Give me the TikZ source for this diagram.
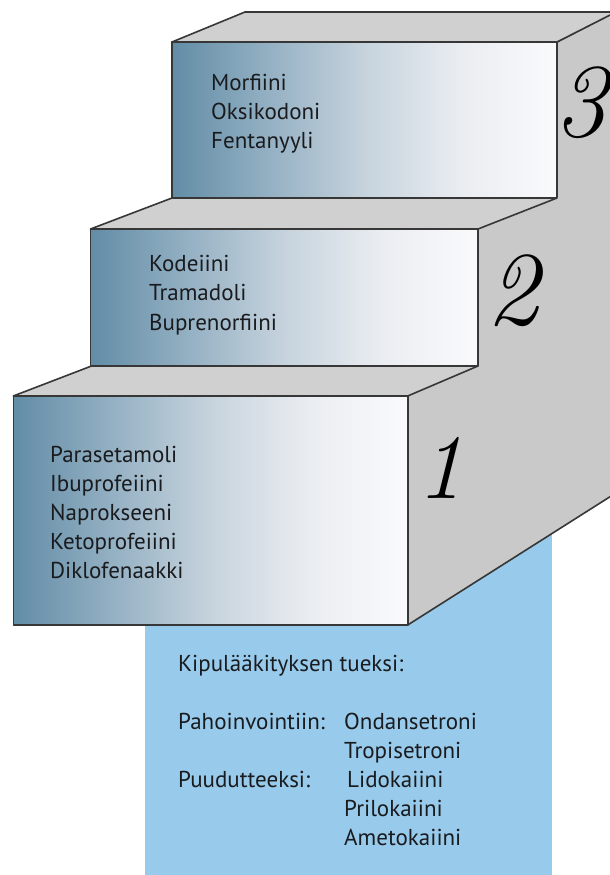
\documentclass[tikz,border=0pt]{standalone}
\usepackage{fontspec}
\setmainfont{PT Sans}
\newfontfamily\digitfont{Latin Modern Roman}
\definecolor{linegray}{RGB}{55,55,55}
\definecolor{topgray}{RGB}{208,208,208}
\definecolor{sidegray}{RGB}{201,201,201}
\definecolor{panelblue}{RGB}{152,202,235}
\definecolor{textdark}{RGB}{25,27,30}
\definecolor{g0}{RGB}{98,141,166}
\definecolor{g1}{RGB}{148,176,195}
\definecolor{g2}{RGB}{198,211,221}
\definecolor{g3}{RGB}{234,237,241}
\definecolor{g4}{RGB}{250,250,252}
\pgfdeclarehorizontalshading{frontgrad}{100bp}{color(0bp)=(g0); color(25bp)=(g0); color(37.5bp)=(g1); color(50bp)=(g2); color(62.5bp)=(g3); color(75bp)=(g4); color(100bp)=(g4)}
\tikzset{
  edge/.style={draw=linegray, line width=1.6pt, line join=round},
  topface/.style={edge, fill=topgray},
  frontface/.style={edge, shading=frontgrad},
  lbl/.style={anchor=base west, inner sep=0pt, text=textdark, font=\fontsize{23}{29}\selectfont},
  digit/.style={inner sep=0pt, text=black, font=\digitfont\itshape\fontsize{105}{105}\selectfont},
}
\begin{document}
\begin{tikzpicture}[x=1pt,y=-1pt]
\useasboundingbox (0,0) rectangle (610,875);
\clip (0,0) rectangle (610,875);
\fill[white] (0,0) rectangle (610,875);
% blue panel behind
\fill[panelblue] (145,480) rectangle (551.7,875);
% side face of the staircase
\fill[sidegray] (557,42) -- (620,9.5) -- (620,490.4) -- (407.7,625) -- (407.7,396) -- (478,366) -- (478,229) -- (557,198) -- cycle;
\draw[edge] (557,42) -- (620,9.5);
\draw[edge] (407.7,625) -- (620,490.4);
% top faces
\filldraw[topface] (172,42) -- (245,12) -- (616,12) -- (557,42) -- cycle;
\filldraw[topface] (90.5,229) -- (172,198) -- (557,198) -- (478,229) -- cycle;
\filldraw[topface] (13.3,396) -- (91.5,366) -- (478,366) -- (407.7,396) -- cycle;
% front faces
\shadedraw[frontface] (172,42) rectangle (557,197.5);
\shadedraw[frontface] (90.5,229) rectangle (478,366);
\shadedraw[frontface] (13.3,396) rectangle (407.7,625);
% step 3 texts
\node[lbl] (t3a) at (211,90) {Morfiini};
\node[lbl] (t3b) at (211,119) {Oksikodoni};
\node[lbl] (t3c) at (211,148) {Fentanyyli};
% step 2 texts
\node[lbl] (t2a) at (149,271.7) {Kodeiini};
\node[lbl] (t2b) at (149,300.7) {Tramadoli};
\node[lbl] (t2c) at (149,330) {Buprenorfiini};
% step 1 texts
\node[lbl] (t1a) at (50,462.3) {Parasetamoli};
\node[lbl] (t1b) at (50,491.3) {Ibuprofeiini};
\node[lbl] (t1c) at (50,520.3) {Naprokseeni};
\node[lbl] (t1d) at (50,549.3) {Ketoprofeiini};
\node[lbl] (t1e) at (50,578.3) {Diklofenaakki};
% panel texts
\node[lbl] (p0) at (178,671.7) {Kipulääkityksen tueksi:};
\node[lbl] (p1) at (178,729) {Pahoinvointiin:};
\node[lbl] (p1a) at (344,729) {Ondansetroni};
\node[lbl] (p1b) at (344,758) {Tropisetroni};
\node[lbl] (p2) at (178,787.7) {Puudutteeksi:};
\node[lbl] (p2a) at (347,787.7) {Lidokaiini};
\node[lbl] (p2b) at (344,816.7) {Prilokaiini};
\node[lbl] (p2c) at (344,845.7) {Ametokaiini};
% digits
\node[digit] (d3) at (581,103) {3};
\node[digit] (d2) at (513,291) {2};
\node[digit, font=\digitfont\itshape\fontsize{92}{92}\selectfont] (d1) at (440,468) {1};
\end{tikzpicture}
\end{document}
